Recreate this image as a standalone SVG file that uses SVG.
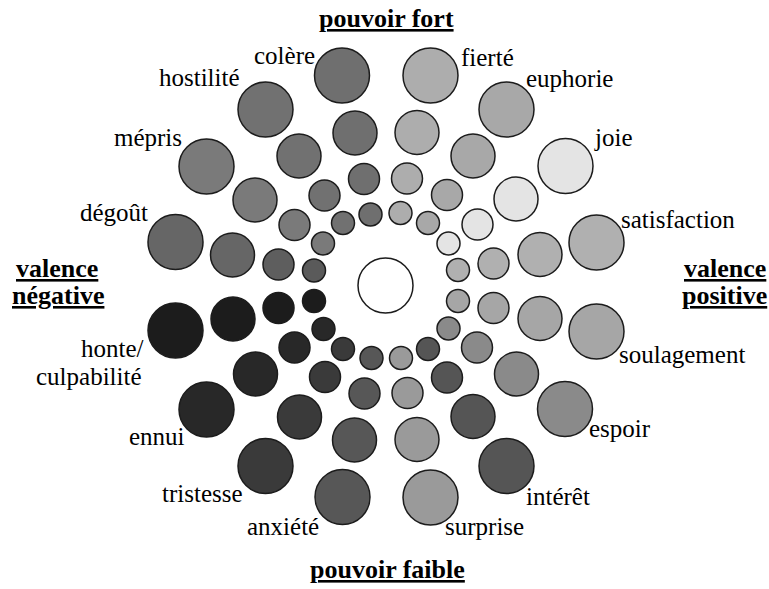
<svg xmlns="http://www.w3.org/2000/svg" width="769" height="589" viewBox="0 0 769 589">
<rect width="769" height="589" fill="#fff"/>
<g id="connectors"/>
<g id="centre" stroke="#1c1c1c" stroke-width="1.5"><circle cx="385.5" cy="285.5" r="27.5" fill="#fff"/></g>
<g id="colere" fill="#6f6f6f" stroke="#1c1c1c" stroke-width="1.5"><circle cx="342" cy="75.5" r="27.5"/><circle cx="355" cy="133" r="22"/><circle cx="364" cy="179" r="15.5"/><circle cx="370.5" cy="214.5" r="11.5"/></g>
<g id="hostilite" fill="#717171" stroke="#1c1c1c" stroke-width="1.5"><circle cx="265.5" cy="109.5" r="27.5"/><circle cx="299" cy="156" r="22"/><circle cx="324.5" cy="195.5" r="15.5"/><circle cx="343" cy="223" r="11.5"/></g>
<g id="mepris" fill="#7a7a7a" stroke="#1c1c1c" stroke-width="1.5"><circle cx="206.5" cy="166.5" r="27.5"/><circle cx="255" cy="200" r="22"/><circle cx="294.5" cy="225" r="15.5"/><circle cx="323" cy="243.5" r="11.5"/></g>
<g id="degout" fill="#666" stroke="#1c1c1c" stroke-width="1.5"><circle cx="175.5" cy="242" r="27.5"/><circle cx="232.5" cy="255" r="22"/><circle cx="278.5" cy="264.5" r="15.5" fill="#5e5e5e"/><circle cx="314" cy="270.5" r="11.5" fill="#5a5a5a"/></g>
<g id="honte" fill="#1c1c1c" stroke="#1c1c1c" stroke-width="1.5"><circle cx="175.5" cy="330.5" r="27.5"/><circle cx="233" cy="319" r="22"/><circle cx="278.5" cy="308" r="15.5"/><circle cx="314" cy="301" r="11.5"/></g>
<g id="ennui" fill="#282828" stroke="#1c1c1c" stroke-width="1.5"><circle cx="206.5" cy="409.5" r="27.5"/><circle cx="255.5" cy="374" r="22"/><circle cx="294.5" cy="347.5" r="15.5"/><circle cx="323.5" cy="329" r="11.5"/></g>
<g id="tristesse" fill="#3a3a3a" stroke="#1c1c1c" stroke-width="1.5"><circle cx="265.5" cy="466" r="27.5"/><circle cx="299.5" cy="417" r="22"/><circle cx="325" cy="377" r="15.5"/><circle cx="343" cy="349" r="11.5"/></g>
<g id="anxiete" fill="#575757" stroke="#1c1c1c" stroke-width="1.5"><circle cx="342.5" cy="497" r="27.5"/><circle cx="354.5" cy="440" r="22"/><circle cx="364.5" cy="393.5" r="15.5"/><circle cx="371.5" cy="358" r="11.5"/></g>
<g id="surprise" fill="#9a9a9a" stroke="#1c1c1c" stroke-width="1.5"><circle cx="430.5" cy="497.5" r="27.5"/><circle cx="417" cy="439.5" r="22"/><circle cx="407.5" cy="393" r="15.5"/><circle cx="401" cy="358" r="11.5"/></g>
<g id="interet" fill="#555" stroke="#1c1c1c" stroke-width="1.5"><circle cx="506.5" cy="466" r="27.5"/><circle cx="473" cy="416.5" r="22"/><circle cx="447" cy="377.5" r="15.5"/><circle cx="428" cy="349" r="11.5"/></g>
<g id="espoir" fill="#8a8a8a" stroke="#1c1c1c" stroke-width="1.5"><circle cx="565" cy="409" r="27.5"/><circle cx="516.5" cy="374" r="22"/><circle cx="477" cy="347.5" r="15.5"/><circle cx="448.5" cy="328.5" r="11.5"/></g>
<g id="soulagement" fill="#a6a6a6" stroke="#1c1c1c" stroke-width="1.5"><circle cx="596.5" cy="331.5" r="27.5"/><circle cx="540" cy="318.5" r="22"/><circle cx="493.5" cy="308" r="15.5"/><circle cx="458" cy="301" r="11.5"/></g>
<g id="satisfaction" fill="#b0b0b0" stroke="#1c1c1c" stroke-width="1.5"><circle cx="596.5" cy="242.5" r="27.5"/><circle cx="540" cy="254.5" r="22"/><circle cx="493.5" cy="263.5" r="15.5"/><circle cx="458" cy="270" r="11.5"/></g>
<g id="joie" fill="#e4e4e4" stroke="#1c1c1c" stroke-width="1.5"><circle cx="565.5" cy="166" r="27.5"/><circle cx="516" cy="199" r="22"/><circle cx="477.5" cy="224.5" r="15.5"/><circle cx="448.5" cy="243.5" r="11.5"/></g>
<g id="euphorie" fill="#a8a8a8" stroke="#1c1c1c" stroke-width="1.5"><circle cx="506.5" cy="109.5" r="27.5"/><circle cx="473" cy="156" r="22"/><circle cx="447" cy="195" r="15.5"/><circle cx="428" cy="223" r="11.5"/></g>
<g id="fierte" fill="#adadad" stroke="#1c1c1c" stroke-width="1.5"><circle cx="430.5" cy="75.5" r="27.5"/><circle cx="417" cy="132.5" r="22"/><circle cx="407" cy="178.5" r="15.5"/><circle cx="400.5" cy="213" r="11.5"/></g>
<text x="254" y="64" font-family="Liberation Serif" font-size="25">colère</text>
<text x="159" y="86" font-family="Liberation Serif" font-size="25">hostilité</text>
<text x="114" y="146" font-family="Liberation Serif" font-size="25">mépris</text>
<text x="80" y="221" font-family="Liberation Serif" font-size="25">dégoût</text>
<text x="81" y="357" font-family="Liberation Serif" font-size="25">honte/</text>
<text x="36" y="385" font-family="Liberation Serif" font-size="25">culpabilité</text>
<text x="129" y="445" font-family="Liberation Serif" font-size="25">ennui</text>
<text x="162" y="502" font-family="Liberation Serif" font-size="25">tristesse</text>
<text x="247" y="535" font-family="Liberation Serif" font-size="25">anxiété</text>
<text x="445" y="535" font-family="Liberation Serif" font-size="25">surprise</text>
<text x="526" y="505" font-family="Liberation Serif" font-size="25">intérêt</text>
<text x="589" y="437" font-family="Liberation Serif" font-size="25">espoir</text>
<text x="619" y="363" font-family="Liberation Serif" font-size="25">soulagement</text>
<text x="621" y="228" font-family="Liberation Serif" font-size="25">satisfaction</text>
<text x="595" y="146" font-family="Liberation Serif" font-size="25">joie</text>
<text x="526" y="87" font-family="Liberation Serif" font-size="25">euphorie</text>
<text x="461" y="66" font-family="Liberation Serif" font-size="25">fierté</text>
<text x="319" y="27" font-family="Liberation Serif" font-size="26" font-weight="bold" text-decoration="underline">pouvoir fort</text>
<text x="310" y="578" font-family="Liberation Serif" font-size="26" font-weight="bold" text-decoration="underline">pouvoir faible</text>
<text x="16" y="277" font-family="Liberation Serif" font-size="26" font-weight="bold" text-decoration="underline">valence</text>
<text x="12" y="304" font-family="Liberation Serif" font-size="26" font-weight="bold" text-decoration="underline">négative</text>
<text x="684" y="277" font-family="Liberation Serif" font-size="26" font-weight="bold" text-decoration="underline">valence</text>
<text x="682" y="304" font-family="Liberation Serif" font-size="26" font-weight="bold" text-decoration="underline">positive</text>
</svg>
